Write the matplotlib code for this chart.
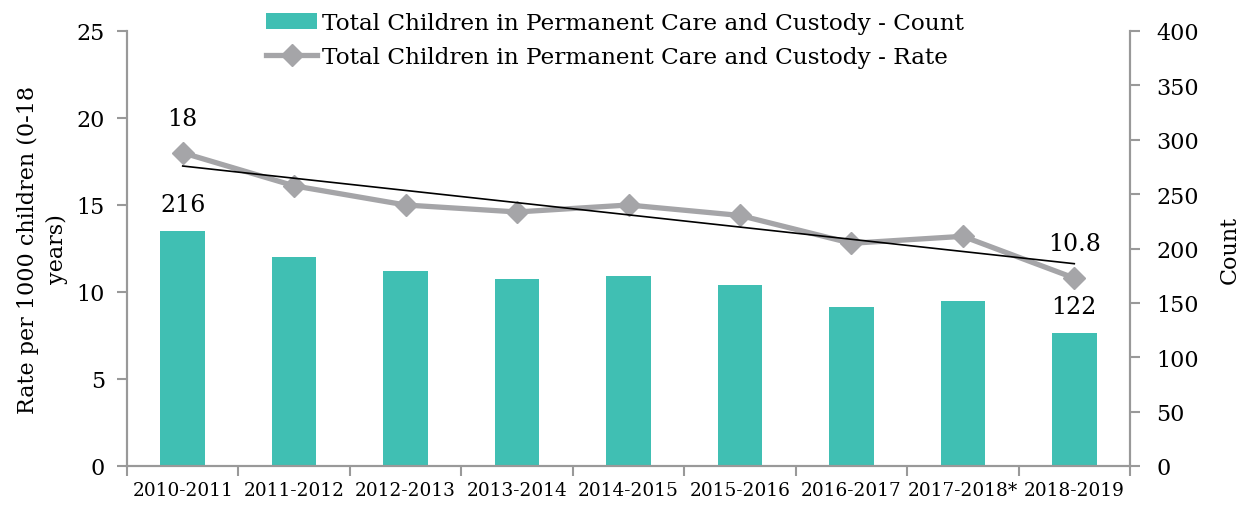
import numpy as np
import matplotlib.pyplot as plt

plt.rcParams['font.family'] = ['DejaVu Serif']

years = ['2010-2011', '2011-2012', '2012-2013', '2013-2014', '2014-2015',
         '2015-2016', '2016-2017', '2017-2018*', '2018-2019']
counts = [216, 192, 179, 172, 175, 166, 146, 152, 122]
rates = [18, 16.1, 15.0, 14.6, 15.0, 14.4, 12.8, 13.2, 10.8]

bar_color = '#40BFB3'
line_color = '#A5A5A8'
axis_color = '#999999'

fig = plt.figure(figsize=(12.45, 5.06), dpi=100)
ax = fig.add_axes([127 / 1245, 39 / 506, 1003 / 1245, 435 / 506])
ax2 = ax.twinx()

x = np.arange(len(years))

# counts on the right axis, drawn behind the rate line
ax2.bar(x, counts, width=0.4, color=bar_color, zorder=1,
        label='Total Children in Permanent Care and Custody - Count')
ax2.set_ylim(0, 400)
ax2.set_yticks(range(0, 401, 50))

ax.set_zorder(ax2.get_zorder() + 1)
ax.patch.set_visible(False)
ax.plot(x, rates, color=line_color, lw=3.8, marker='D', ms=11,
        label='Total Children in Permanent Care and Custody - Rate')
slope, icpt = np.polyfit(x, rates, 1)
ax.plot(x, slope * x + icpt, color='black', lw=1.2)
ax.set_ylim(0, 25)
ax.set_yticks(range(0, 26, 5))
ax.set_xlim(-0.5, len(years) - 0.5)

ax.set_xticks(x)
ax.set_xticklabels(years, fontsize=13.3)
ax.set_xticks(np.arange(-0.5, len(years)), minor=True)
ax.tick_params(axis='x', which='major', length=0, pad=11)
ax.tick_params(axis='x', which='minor', length=7, color=axis_color, width=1.5)
ax.tick_params(axis='y', length=7, color=axis_color, width=1.5, labelsize=16, pad=9)
ax2.tick_params(axis='y', length=7, color=axis_color, width=1.5, labelsize=16, pad=12)

for a in (ax, ax2):
    a.spines['top'].set_visible(False)
    for s in ('left', 'right', 'bottom'):
        a.spines[s].set_color(axis_color)
        a.spines[s].set_linewidth(1.5)

ax.set_ylabel('Rate per 1000 children (0-18\nyears)', fontsize=16, labelpad=6,
              linespacing=1.4)
ax2.set_ylabel('Count', fontsize=16, labelpad=14)

# data labels on first and last categories
ax.text(x[0], rates[0] + 1.3, f'{rates[0]:g}', ha='center', va='bottom', fontsize=17)
ax.text(x[-1], rates[-1] + 1.3, f'{rates[-1]:g}', ha='center', va='bottom', fontsize=17)
ax2.text(x[0], counts[0] + 14, f'{counts[0]}', ha='center', va='bottom', fontsize=17)
ax2.text(x[-1], counts[-1] + 14, f'{counts[-1]}', ha='center', va='bottom', fontsize=17)

h1, l1 = ax2.get_legend_handles_labels()
h2, l2 = ax.get_legend_handles_labels()
fig.legend(h1 + h2, l1 + l2, loc='upper center', bbox_to_anchor=(0.494, 1.006),
           frameon=False, fontsize=16.7, handlelength=2.2, handletextpad=0.2,
           labelspacing=0.52, borderaxespad=0.3)

fig.savefig('out.png', dpi=100)
